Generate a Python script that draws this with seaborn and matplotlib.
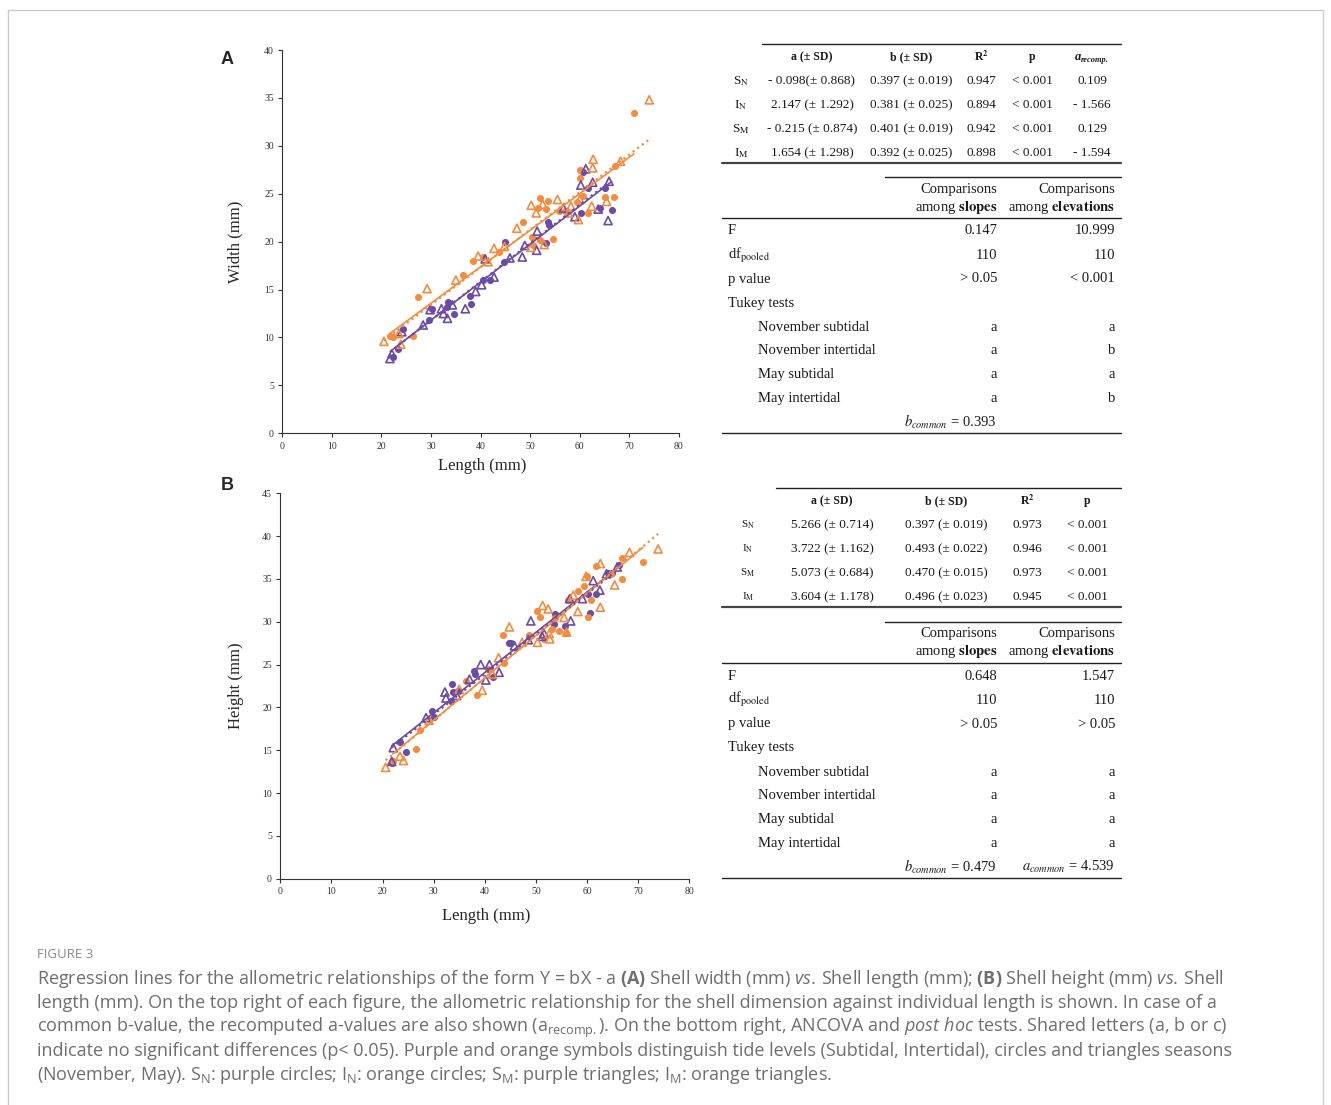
import numpy as np
import matplotlib
matplotlib.use('Agg')
import matplotlib.pyplot as plt
import seaborn as sns
from matplotlib.lines import Line2D

W, H = 1331, 1105
PURPLE = '#6a4ba5'
ORANGE = '#f48b3d'

# ---------------- panel A : width vs length ----------------
a_sn_x = [22.3, 23.4, 24.3, 29.6, 30.1, 33.3, 33.5, 34.7, 37.8, 38.0, 40.5, 41.9, 44.7, 44.9,
          53.2, 53.5, 53.8, 60.2, 60.6, 61.7, 64.1, 65.1, 66.4]
a_sn_y = [8.0, 8.8, 10.9, 11.8, 13.0, 13.2, 13.7, 12.5, 14.3, 13.5, 16.0, 16.0, 17.9, 20.0,
          19.9, 22.0, 21.7, 23.0, 27.3, 25.6, 23.5, 25.6, 23.3]
a_in_x = [21.7, 22.4, 26.3, 27.3, 36.5, 38.5, 40.5, 43.6, 48.6, 50.3, 50.6, 51.6, 52.0, 52.0,
          53.2, 53.6, 54.5, 55.8, 57.0, 59.4, 60.0, 60.0, 60.6, 61.7, 65.1, 66.8, 67.1, 70.9]
a_in_y = [10.2, 10.0, 10.2, 14.2, 16.5, 18.0, 18.4, 18.9, 22.0, 20.5, 19.7, 23.5, 24.6, 20.2,
          23.4, 24.2, 20.3, 23.2, 23.2, 24.1, 27.5, 26.6, 24.8, 23.0, 24.7, 24.7, 27.9, 33.4]
a_sm_x = [21.7, 22.1, 24.1, 28.4, 29.8, 32.1, 32.5, 33.3, 34.3, 36.9, 39.0, 40.2, 40.9, 42.7,
          45.9, 48.4, 48.9, 51.3, 51.4, 56.7, 59.0, 60.2, 61.2, 62.6, 63.7, 65.7, 65.9]
a_sm_y = [7.8, 8.3, 10.6, 11.3, 12.9, 13.0, 12.5, 12.0, 13.4, 13.0, 14.8, 15.5, 18.2, 16.3,
          18.3, 18.4, 19.6, 19.1, 21.1, 23.5, 22.6, 25.9, 27.6, 26.2, 23.4, 22.2, 26.3]
a_im_x = [20.5, 23.5, 23.9, 29.2, 35.0, 39.5, 41.5, 42.7, 44.8, 47.3, 50.1, 50.2, 51.2, 52.5,
          52.8, 55.5, 57.7, 58.2, 59.7, 60.0, 62.4, 62.6, 62.7, 65.4, 68.2, 74.0]
a_im_y = [9.6, 10.4, 9.3, 15.1, 16.0, 18.5, 17.9, 19.3, 19.5, 21.4, 19.4, 23.8, 23.0, 23.9,
          19.7, 24.4, 23.0, 23.7, 22.3, 24.4, 23.7, 27.7, 28.6, 24.2, 28.4, 34.8]
# fitted lines (intercept, slope) as drawn: S_N, I_N, S_M, I_M
a_line_a = [-0.098, 2.147, -0.215, 1.654]
a_line_b = [0.397, 0.381, 0.401, 0.392]

# ---------------- panel B : height vs length ----------------
b_sn_x = [21.8, 23.5, 24.5, 29.6, 30.1, 33.3, 33.5, 33.8, 34.8, 37.9, 38.1, 41.7, 44.8, 45.2,
          53.6, 53.7, 55.7, 60.1, 60.6, 61.7, 64.0, 64.8, 66.3]
b_sn_y = [13.5, 16.0, 14.8, 19.6, 18.9, 20.7, 22.7, 21.8, 21.9, 24.3, 23.9, 23.6, 27.5, 27.5,
          29.7, 30.9, 29.5, 33.3, 31.0, 33.2, 35.7, 35.7, 36.6]
b_in_x = [22.0, 26.5, 27.3, 36.4, 38.4, 40.7, 43.5, 43.7, 48.7, 50.3, 50.8, 51.6, 53.2, 53.7,
          54.5, 55.9, 56.3, 58.3, 59.4, 59.9, 60.1, 60.8, 61.7, 64.7, 66.9, 66.9, 70.9]
b_in_y = [13.7, 15.2, 17.4, 23.1, 21.5, 24.5, 28.5, 25.2, 28.4, 31.3, 30.6, 28.0, 29.2, 30.4,
          28.9, 28.7, 32.5, 33.6, 34.2, 35.3, 30.5, 32.5, 36.5, 35.6, 35.0, 37.4, 37.0]
b_sm_x = [21.8, 22.1, 28.5, 32.2, 32.4, 34.5, 37.0, 39.2, 40.2, 40.9, 42.8, 45.8, 48.5, 49.0,
          51.2, 51.6, 56.6, 56.8, 59.1, 61.2, 62.5, 63.8, 65.9]
b_sm_y = [13.7, 15.3, 18.8, 21.8, 21.1, 21.4, 23.3, 25.0, 23.2, 25.0, 24.1, 27.2, 27.9, 30.1,
          28.3, 28.6, 32.7, 30.1, 32.7, 34.8, 33.7, 35.6, 36.4]
b_im_x = [20.6, 23.4, 24.1, 29.1, 35.0, 39.5, 41.5, 42.7, 44.8, 47.3, 50.3, 51.3, 52.4, 52.6,
          52.7, 55.5, 56.0, 57.3, 58.2, 59.8, 62.6, 62.6, 65.4, 68.3, 73.9]
b_im_y = [13.0, 14.3, 13.8, 18.5, 22.1, 22.0, 23.9, 25.8, 29.4, 27.6, 27.6, 31.9, 31.5, 28.6,
          28.0, 30.5, 28.8, 33.1, 31.2, 35.3, 36.8, 31.7, 34.3, 38.1, 38.5]
b_line_a = [5.266, 3.722, 5.073, 3.604]
b_line_b = [0.470, 0.493, 0.470, 0.496]

# ---------------- table contents ----------------
row_labels = ['S$_{\\mathrm{N}}$', 'I$_{\\mathrm{N}}$', 'S$_{\\mathrm{M}}$', 'I$_{\\mathrm{M}}$']
a_fit_cols = ['a (± SD)', 'b (± SD)', 'R$^{\\mathbf{2}}$', 'p', None]
a_fit_rows = [['- 0.098(± 0.868)', '0.397 (± 0.019)', '0.947', '< 0.001', '0.109'],
              ['2.147 (± 1.292)', '0.381 (± 0.025)', '0.894', '< 0.001', '- 1.566'],
              ['- 0.215 (± 0.874)', '0.401 (± 0.019)', '0.942', '< 0.001', '0.129'],
              ['1.654 (± 1.298)', '0.392 (± 0.025)', '0.898', '< 0.001', '- 1.594']]
b_fit_cols = ['a (± SD)', 'b (± SD)', 'R$^{\\mathbf{2}}$', 'p']
b_fit_rows = [['5.266 (± 0.714)', '0.397 (± 0.019)', '0.973', '< 0.001'],
              ['3.722 (± 1.162)', '0.493 (± 0.022)', '0.946', '< 0.001'],
              ['5.073 (± 0.684)', '0.470 (± 0.015)', '0.973', '< 0.001'],
              ['3.604 (± 1.178)', '0.496 (± 0.023)', '0.945', '< 0.001']]
tukey_groups = ['November subtidal', 'November intertidal', 'May subtidal', 'May intertidal']
a_anc_slopes = ['0.147', '110', '> 0.05']
a_anc_elev = ['10.999', '110', '< 0.001']
a_tukey_slopes = ['a', 'a', 'a', 'a']
a_tukey_elev = ['a', 'b', 'a', 'b']
a_common = ['$b_{common}$ = 0.393', '']
b_anc_slopes = ['0.648', '110', '> 0.05']
b_anc_elev = ['1.547', '110', '> 0.05']
b_tukey_slopes = ['a', 'a', 'a', 'a']
b_tukey_elev = ['a', 'a', 'a', 'a']
b_common = ['$b_{common}$ = 0.479', '$a_{common}$ = 4.539']

caption_lines = [
    'Regression lines for the allometric relationships of the form Y = bX - a $\\mathbf{(A)}$ Shell width (mm) '
    '$\\mathit{vs.\\,}$Shell length (mm); $\\mathbf{(B)}$ Shell height (mm) $\\mathit{vs.\\,}$Shell',
    'length (mm). On the top right of each figure, the allometric relationship for the shell dimension against '
    'individual length is shown. In case of a',
    'common b-value, the recomputed a-values are also shown (a$_{\\mathrm{recomp.}}$). On the bottom right, '
    'ANCOVA and $\\mathit{post\\ hoc}$ tests. Shared letters (a, b or c)',
    'indicate no significant differences (p< 0.05). Purple and orange symbols distinguish tide levels '
    '(Subtidal, Intertidal), circles and triangles seasons',
    '(November, May). S$_{\\mathrm{N}}$: purple circles; I$_{\\mathrm{N}}$: orange circles; '
    'S$_{\\mathrm{M}}$: purple triangles; I$_{\\mathrm{M}}$: orange triangles.',
]

sns.set_style('ticks')
plt.rcParams['font.family'] = ['Liberation Serif', 'DejaVu Sans']
plt.rcParams['mathtext.fontset'] = 'custom'
plt.rcParams['mathtext.rm'] = 'Open Sans'
plt.rcParams['mathtext.it'] = 'Open Sans:italic'
plt.rcParams['mathtext.bf'] = 'Open Sans:bold'

fig = plt.figure(figsize=(W / 100, H / 100), dpi=100)


def fx(x):
    return x / W


def fy(y):
    return 1 - y / H


def hline(y, x0, x1, lw=1.0, color='#222222'):
    fig.add_artist(Line2D([fx(x0), fx(x1)], [fy(y), fy(y)], color=color, lw=lw))


def put(x, y, s, ha='left', size=10.5, weight='normal', **kw):
    fig.text(fx(x), fy(y), s, ha=ha, va='center', fontsize=size, fontweight=weight,
             family='Liberation Serif', math_fontfamily='stix', color='#1a1a1a', **kw)


def draw_panel(ax, groups, line_a, line_b, ymax, ylabel, lab_x, lab_y):
    styles = [(PURPLE, 'o', '-'), (ORANGE, 'o', '-'), (PURPLE, '^', 'dot'), (ORANGE, '^', 'dot')]
    for (xs, ys), (col, mk, ls) in zip(groups, styles):
        if mk == 'o':
            sns.scatterplot(x=xs, y=ys, ax=ax, color=col, marker='o', s=26, linewidth=0, zorder=3)
        else:
            sns.scatterplot(x=xs, y=ys, ax=ax, color=col, marker='^', s=34, facecolors='none',
                            edgecolor=col, linewidth=1.2, zorder=3)
    for (xs, ys), (col, mk, ls), a, b in zip(groups, styles, line_a, line_b):
        lx = np.array([min(xs), max(xs)])
        if ls == '-':
            ax.plot(lx, a + b * lx, color=col, lw=1.2, zorder=4)
        else:
            ax.plot(lx, a + b * lx, color=col, lw=1.6, linestyle=(0, (1, 1.6)), zorder=4)
    ax.set_xlim(0, 80)
    ax.set_ylim(0, ymax)
    ax.set_xticks(range(0, 81, 10))
    ax.set_yticks(range(0, ymax + 1, 5))
    ax.tick_params(labelsize=7, length=3, width=0.8, colors='#333333', pad=3)
    for sp in ['left', 'bottom']:
        ax.spines[sp].set_color('#333333')
        ax.spines[sp].set_linewidth(0.8)
    sns.despine(ax=ax)
    ax.set_xlabel('Length (mm)', fontsize=12)
    ax.set_ylabel(ylabel, fontsize=12)
    ax.xaxis.set_label_coords(0.503, lab_x)
    ax.yaxis.set_label_coords(lab_y, 0.5)


axA = fig.add_axes([fx(282.3), fy(433.3), (679 - 282.3) / W, (433.3 - 50) / H])
draw_panel(axA, [(a_sn_x, a_sn_y), (a_in_x, a_in_y), (a_sm_x, a_sm_y), (a_im_x, a_im_y)],
           a_line_a, a_line_b, 40, 'Width (mm)', -0.065, -0.097)
axB = fig.add_axes([fx(280.3), fy(878.7), (689.3 - 280.3) / W, (878.7 - 493.3) / H])
draw_panel(axB, [(b_sn_x, b_sn_y), (b_in_x, b_in_y), (b_sm_x, b_sm_y), (b_im_x, b_im_y)],
           b_line_a, b_line_b, 45, 'Height (mm)', -0.076, -0.089)

fig.text(fx(221), fy(60), 'A', fontsize=13, fontweight='bold', family='Liberation Sans',
         va='center', ha='left')
fig.text(fx(221), fy(486), 'B', fontsize=13, fontweight='bold', family='Liberation Sans',
         va='center', ha='left')


def fit_table(top, line_x0, label_x, col_x, cols, rows, label_size):
    hline(top, line_x0, 1121, lw=1.0)
    for cx, c in zip(col_x, cols):
        if c is None:
            # bold italic a with subscript "recomp."
            put(cx - 17, top + 13, 'a', size=9, weight='bold', style='italic')
            put(cx - 11, top + 16, 'recomp.', size=6, weight='bold', style='italic')
        else:
            put(cx, top + 13, c, ha='center', size=8.5, weight='bold')
    for i, (lab, r) in enumerate(zip(row_labels, rows)):
        yy = top + 37 + 24 * i
        put(label_x, yy, lab, ha='center', size=label_size)
        for cx, v in zip(col_x, r):
            put(cx, yy, v, ha='center', size=9.5)
    hline(top + 119, 722, 1121, lw=1.6, color='#444444')


def ancova_table(top, slopes, elev, t_slopes, t_elev, common):
    hline(top, 885, 1121, lw=1.0)
    put(997, top + 12, 'Comparisons', ha='right')
    put(997, top + 30, 'among $\\mathbf{slopes}$', ha='right')
    put(1115, top + 12, 'Comparisons', ha='right')
    put(1115, top + 30, 'among $\\mathbf{elevations}$', ha='right')
    hline(top + 41, 722, 1121, lw=1.0)
    names = ['F', 'df$_{\\mathrm{pooled}}$', 'p value']
    for i, (n, s, e) in enumerate(zip(names, slopes, elev)):
        yy = top + 54 + 24 * i
        put(728, yy, n)
        put(997, yy, s, ha='right')
        put(1115, yy, e, ha='right')
    put(728, top + 126, 'Tukey tests')
    for i, (g, s, e) in enumerate(zip(tukey_groups, t_slopes, t_elev)):
        yy = top + 150 + 23.8 * i
        put(758, yy, g)
        put(997, yy, s, ha='right')
        put(1115, yy, e, ha='right')
    put(997, top + 245, common[0], ha='right')
    put(1115, top + 245, common[1], ha='right')
    hline(top + 256, 722, 1121, lw=1.0)


fit_table(44, 762, 741, [812, 911, 981, 1032, 1092], a_fit_cols, a_fit_rows, 9.5)
ancova_table(177, a_anc_slopes, a_anc_elev, a_tukey_slopes, a_tukey_elev, a_common)
fit_table(488, 776, 748, [832, 946, 1027, 1087], b_fit_cols, b_fit_rows, 8)
ancova_table(622, b_anc_slopes, b_anc_elev, b_tukey_slopes, b_tukey_elev, b_common)

# caption
fig.text(fx(37), fy(955), 'FIGURE 3', fontsize=9.5, family='Open Sans', color='#8a8a8a', va='center')
for i, line in enumerate(caption_lines):
    fig.text(fx(37), fy(984 + 24 * i), line, fontsize=13.0, family='Open Sans', color='#6e6e6e',
             va='baseline', math_fontfamily='custom')

# page frame
fc = '#cccccc'
fig.add_artist(Line2D([fx(8), fx(8)], [0, fy(10)], color=fc, lw=1))
fig.add_artist(Line2D([fx(8), fx(1323)], [fy(10), fy(10)], color=fc, lw=1))
fig.add_artist(Line2D([fx(1323), fx(1323)], [0, fy(10)], color=fc, lw=1))

fig.savefig('out.png', dpi=100)
